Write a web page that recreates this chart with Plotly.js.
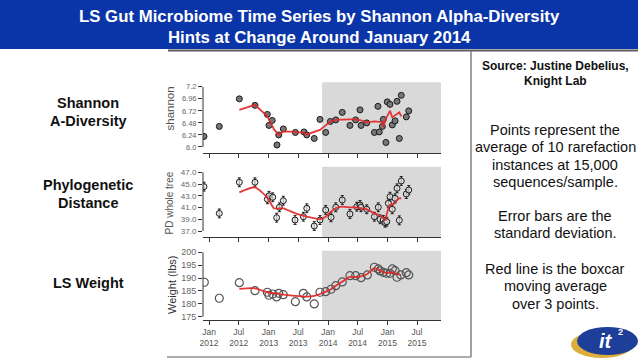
<!DOCTYPE html>
<html><head><meta charset="utf-8">
<script src="https://cdn.plot.ly/plotly-3.0.1.min.js"></script>
<style>html,body{margin:0;padding:0;background:#fff;overflow:hidden}#chart{width:638px;height:359px}</style>
</head><body><div id="chart"></div>
<script>
// ---------- data ----------
const shannonDates = ['2011-12-01','2012-03-04','2012-07-05','2012-10-09','2012-12-24','2013-01-03','2013-01-23','2013-02-21','2013-03-04','2013-04-01','2013-06-14','2013-08-06','2013-08-23','2013-10-08','2013-11-12','2013-12-17','2014-01-15','2014-02-17','2014-03-29','2014-05-15','2014-06-19','2014-07-16','2014-07-22','2014-08-26','2014-10-12','2014-11-03','2014-11-11','2014-11-30','2014-12-06','2014-12-22','2014-12-30','2015-01-16','2015-01-30','2015-02-16','2015-02-28','2015-03-14','2015-03-26','2015-04-26','2015-05-11'];
const shannonValues = [6.21,6.41,6.96,6.83,6.65,6.43,6.53,6.04,6.24,6.36,6.29,6.30,6.24,6.17,6.55,6.29,6.51,6.54,6.69,6.43,6.54,6.74,6.43,6.48,6.29,6.81,6.30,6.41,6.55,6.09,6.90,6.85,6.44,6.52,6.91,6.17,7.03,6.60,6.72];
const shannonAvgDates = ['2012-07-05','2012-10-09','2012-12-24','2013-02-03','2013-03-04','2013-04-01','2013-06-14','2013-08-06','2013-08-23','2013-10-08','2013-11-12','2013-12-17','2014-01-15','2014-02-17','2014-03-29','2014-05-15','2014-06-19','2014-07-22','2014-08-26','2014-10-12','2014-11-11','2014-11-30','2014-12-06','2014-12-22','2015-01-16','2015-01-30','2015-02-28','2015-03-14','2015-03-26'];
const shannonAvgValues = [6.74,6.84,6.61,6.35,6.24,6.31,6.30,6.28,6.25,6.31,6.34,6.43,6.51,6.54,6.55,6.55,6.55,6.53,6.49,6.51,6.50,6.51,6.40,6.57,6.72,6.59,6.66,6.69,6.61];

const pdDates = ['2011-12-01','2012-03-04','2012-07-05','2012-10-09','2012-12-24','2013-01-03','2013-01-26','2013-02-19','2013-03-08','2013-04-01','2013-06-12','2013-08-02','2013-08-23','2013-10-08','2013-11-12','2013-12-17','2014-01-19','2014-02-17','2014-03-29','2014-05-15','2014-06-26','2014-07-16','2014-07-22','2014-08-26','2014-10-12','2014-11-05','2014-11-16','2014-12-06','2014-12-16','2014-12-27','2015-01-06','2015-01-16','2015-01-30','2015-02-16','2015-02-28','2015-03-14','2015-03-26','2015-04-26','2015-05-11'];
const pdValues = [44.55,40.0,45.3,45.3,42.4,43.0,42.74,39.27,41.04,42.16,38.87,39.44,40.87,37.85,38.87,40.58,39.33,41.04,42.28,39.9,41.14,41.43,41.04,40.7,39.44,41.04,39.0,38.87,38.41,38.58,41.72,42.84,40.7,42.57,44.27,38.82,45.52,43.3,43.98];
const pdAvgDates = ['2012-07-05','2012-10-09','2012-12-24','2013-02-03','2013-04-01','2013-06-14','2013-08-23','2013-11-12','2013-12-17','2014-01-15','2014-02-17','2014-03-29','2014-05-15','2014-06-19','2014-07-22','2014-08-26','2014-10-12','2014-11-11','2014-12-06','2014-12-16','2014-12-30','2015-01-16','2015-02-16','2015-02-28','2015-03-14','2015-03-26'];
const pdAvgValues = [43.59,44.44,42.67,40.87,40.87,40.0,39.44,39.04,39.44,40.19,40.87,41.14,41.04,41.04,40.87,40.7,40.0,39.73,39.16,38.87,40.19,41.43,41.72,42.28,42.57,42.57];

const weightDates = ['2011-12-03','2012-03-04','2012-07-05','2012-10-09','2012-12-24','2013-01-03','2013-01-26','2013-02-19','2013-03-04','2013-04-01','2013-06-14','2013-08-02','2013-08-23','2013-10-08','2013-11-12','2013-12-17','2014-01-19','2014-02-17','2014-03-29','2014-05-15','2014-06-19','2014-07-22','2014-08-30','2014-10-12','2014-11-05','2014-11-16','2014-12-06','2014-12-27','2015-01-16','2015-01-30','2015-02-16','2015-02-28','2015-03-23','2015-04-26','2015-05-11'];
const weightValues = [188.35,182.14,188.2,185.1,184.47,183.3,183.8,182.65,184.07,183.54,180.82,184.07,182.65,179.93,184.47,184.7,185.64,187.03,188.47,190.92,190.92,190.14,191.2,194.18,193.52,192.74,192.2,191.85,191.85,193.52,192.86,190.3,191.2,192.08,191.2];
const weightAvgDates = ['2012-07-05','2012-10-09','2012-12-24','2013-03-04','2013-06-14','2013-08-23','2013-10-08','2013-11-12','2013-12-17','2014-01-19','2014-02-17','2014-03-29','2014-05-15','2014-06-19','2014-07-22','2014-08-30','2014-10-12','2014-11-16','2014-12-27','2015-01-30','2015-02-28','2015-03-23'];
const weightAvgValues = [185.75,186.0,184.47,183.8,183.04,182.77,183.04,183.8,184.7,185.64,187.03,188.6,190.4,190.4,190.68,191.58,193.79,192.86,191.85,192.24,191.46,191.2];

const xTickDates = ['2012-01-01','2012-07-01','2013-01-01','2013-07-01','2014-01-01','2014-07-01','2015-01-01','2015-07-01'];
const xTickLabels = ['Jan<br>2012','Jul<br>2012','Jan<br>2013','Jul<br>2013','Jan<br>2014','Jul<br>2014','Jan<br>2015','Jul<br>2015'];
const shannonTicks = [6.0,6.24,6.48,6.72,6.96,7.2];
const shannonTickLabels = ['6.0','6.24','6.48','6.72','6.96','7.2'];
const pdTicks = [37,39,41,43,45,47];
const pdTickLabels = ['37.0','39.0','41.0','43.0','45.0','47.0'];
const weightTicks = [175,180,185,190,195,200];
const weightTickLabels = ['175','180','185','190','195','200'];
const xRange = ['2011-11-25','2015-11-25'];
const changeStart = '2013-11-25';
const changeEnd = '2015-11-25';

// ---------- layout helpers ----------
const W = 638, H = 359;
const px = v => v / W;
const py = v => 1 - v / H;
const SANS = 'Liberation Sans, Arial, Helvetica, sans-serif';
const RED = 'rgba(226,40,40,0.92)';

function xAxis(anchor, showLabels) {
  return {
    domain: [px(203), px(441)], anchor: anchor, type: 'date', range: xRange,
    tickmode: 'array', tickvals: xTickDates, ticktext: xTickLabels, showticklabels: showLabels,
    ticks: 'outside', ticklen: 4, tickwidth: 1, tickcolor: '#333',
    showline: true, linecolor: '#333', linewidth: 1, showgrid: false, zeroline: false,
    tickfont: {family: SANS, size: 8.5, color: '#555'}, fixedrange: true, automargin: false
  };
}
function yAxis(anchor, top, bottom, range, vals, text, fs) {
  return {
    domain: [py(bottom), py(top)], anchor: anchor, range: range,
    tickmode: 'array', tickvals: vals, ticktext: text,
    ticks: 'outside', ticklen: 4, tickwidth: 1, tickcolor: '#333',
    showline: false, showgrid: false, zeroline: false,
    tickfont: {family: SANS, size: fs, color: '#666'}, fixedrange: true, automargin: false
  };
}

const traces = [
  {x: shannonDates, y: shannonValues, xaxis: 'x', yaxis: 'y', type: 'scatter', mode: 'markers',
   marker: {size: 6, color: '#777777', line: {color: '#1a1a1a', width: 1}},
   error_y: {type: 'constant', value: 0.015, thickness: 1, width: 2, color: '#1a1a1a'}, hoverinfo: 'skip'},
  {x: shannonAvgDates, y: shannonAvgValues, xaxis: 'x', yaxis: 'y', type: 'scatter', mode: 'lines',
   line: {color: RED, width: 1.8}, hoverinfo: 'skip'},
  {x: pdDates, y: pdValues, xaxis: 'x2', yaxis: 'y2', type: 'scatter', mode: 'markers',
   marker: {size: 6, color: 'rgba(225,225,225,0.7)', line: {color: '#1a1a1a', width: 1}},
   error_y: {type: 'constant', value: 0.75, thickness: 1, width: 1.5, color: '#1a1a1a'}, hoverinfo: 'skip'},
  {x: pdAvgDates, y: pdAvgValues, xaxis: 'x2', yaxis: 'y2', type: 'scatter', mode: 'lines',
   line: {color: RED, width: 1.8, shape: 'spline', smoothing: 0.6}, hoverinfo: 'skip'},
  {x: weightDates, y: weightValues, xaxis: 'x3', yaxis: 'y3', type: 'scatter', mode: 'markers',
   marker: {size: 8, symbol: 'circle-open', color: '#555', line: {color: '#555', width: 1.2}}, hoverinfo: 'skip'},
  {x: weightAvgDates, y: weightAvgValues, xaxis: 'x3', yaxis: 'y3', type: 'scatter', mode: 'lines',
   line: {color: RED, width: 1.8, shape: 'spline', smoothing: 0.8}, hoverinfo: 'skip'}
];

const shapes = [
  {type: 'rect', xref: 'paper', yref: 'paper', x0: 0, x1: 1, y0: py(49), y1: 1, fillcolor: '#0a35a8', line: {width: 0}, layer: 'below'},
  {type: 'line', xref: 'paper', yref: 'paper', x0: px(168), x1: 1, y0: py(50.5), y1: py(50.5), line: {color: '#5c5c5c', width: 2}},
  {type: 'line', xref: 'paper', yref: 'paper', x0: px(471), x1: px(471), y0: py(51), y1: py(357), line: {color: '#808080', width: 1.5}},
  {type: 'line', xref: 'paper', yref: 'paper', x0: px(167), x1: px(471), y0: py(357), y1: py(357), line: {color: '#909090', width: 1.5}},
  {type: 'rect', xref: 'x', yref: 'y domain', x0: changeStart, x1: changeEnd, y0: 0, y1: 1, fillcolor: '#d9d9d9', line: {width: 0}, layer: 'below'},
  {type: 'rect', xref: 'x2', yref: 'y2 domain', x0: changeStart, x1: changeEnd, y0: 0, y1: 1, fillcolor: '#d9d9d9', line: {width: 0}, layer: 'below'},
  {type: 'rect', xref: 'x3', yref: 'y3 domain', x0: changeStart, x1: changeEnd, y0: 0, y1: 1, fillcolor: '#d9d9d9', line: {width: 0}, layer: 'below'},
  {type: 'line', xref: 'x domain', yref: 'y', x0: 0, x1: 0, y0: shannonTicks[0], y1: shannonTicks[shannonTicks.length - 1], line: {color: '#333', width: 1}},
  {type: 'line', xref: 'x2 domain', yref: 'y2', x0: 0, x1: 0, y0: pdTicks[0], y1: pdTicks[pdTicks.length - 1], line: {color: '#333', width: 1}},
  {type: 'line', xref: 'x3 domain', yref: 'y3', x0: 0, x1: 0, y0: weightTicks[0], y1: weightTicks[weightTicks.length - 1], line: {color: '#333', width: 1}},
  {type: 'circle', xref: 'paper', yref: 'paper', x0: px(571), x1: px(633), y0: py(358), y1: py(331), fillcolor: '#dcae3a', line: {width: 0}},
  {type: 'circle', xref: 'paper', yref: 'paper', x0: px(577), x1: px(638), y0: py(355), y1: py(327), fillcolor: '#1d3f9a', line: {width: 0}}
];

function ann(text, x, y, size, color, extra) {
  return Object.assign({text: text, x: px(x), y: py(y), xref: 'paper', yref: 'paper', showarrow: false,
    xanchor: 'center', yanchor: 'middle', font: {family: SANS, size: size, color: color}}, extra || {});
}

const annotations = [
  ann('<b>LS Gut Microbiome Time Series by Shannon Alpha-Diversity</b>', 319, 17, 16.8, '#ffffff'),
  ann('<b>Hints at Change Around January 2014</b>', 319, 37, 16.8, '#ffffff'),
  ann('<b>Shannon</b>', 88, 103, 14.5, '#111'),
  ann('<b>A-Diversity</b>', 88, 120.5, 14.5, '#111'),
  ann('<b>Phylogenetic</b>', 88, 184.5, 14.5, '#111'),
  ann('<b>Distance</b>', 88, 202.5, 14.5, '#111'),
  ann('<b>LS Weight</b>', 88, 283, 14.5, '#111'),
  ann('<b>Source: Justine Debelius,</b>', 555, 65.5, 12, '#111'),
  ann('<b>Knight Lab</b>', 555, 81, 12, '#111'),
  ann('Points represent the', 555, 129.5, 14.5, '#111'),
  ann('average of 10 rarefaction', 555, 147, 14.5, '#111'),
  ann('instances at 15,000', 555, 164.5, 14.5, '#111'),
  ann('sequences/sample.', 555, 181.5, 14.5, '#111'),
  ann('Error bars are the', 555, 215.5, 14.5, '#111'),
  ann('standard deviation.', 555, 233, 14.5, '#111'),
  ann('Red line is the boxcar', 555, 268.5, 14.5, '#111'),
  ann('moving average', 555, 286, 14.5, '#111'),
  ann('over 3 points.', 555, 303.5, 14.5, '#111'),
  ann('shannon', 169, 108.5, 11.5, '#555', {textangle: -90}),
  ann('PD whole tree', 168.5, 203, 10, '#555', {textangle: -90}),
  ann('Weight (lbs)', 172, 285, 11, '#333', {textangle: -90}),
  ann('<b><i>it</i></b>', 606, 341, 20, '#ffffff'),
  ann('<b>2</b>', 620, 332, 9, '#ffffff')
];

const layout = {
  width: W, height: H, margin: {l: 0, r: 0, t: 0, b: 0, pad: 0},
  paper_bgcolor: '#ffffff', plot_bgcolor: 'rgba(0,0,0,0)', showlegend: false,
  xaxis: xAxis('y', false),
  xaxis2: xAxis('y2', false),
  xaxis3: xAxis('y3', true),
  yaxis: yAxis('x', 82.3, 153, [5.88, 7.29], shannonTicks, shannonTickLabels, 7.5),
  yaxis2: yAxis('x2', 166.7, 237, [35.98, 47.95], pdTicks, pdTickLabels, 8),
  yaxis3: yAxis('x3', 250.7, 320, [173.7, 200.6], weightTicks, weightTickLabels, 9),
  shapes: shapes,
  annotations: annotations
};

Plotly.newPlot('chart', traces, layout, {staticPlot: true, displayModeBar: false});
</script>
</body></html>
